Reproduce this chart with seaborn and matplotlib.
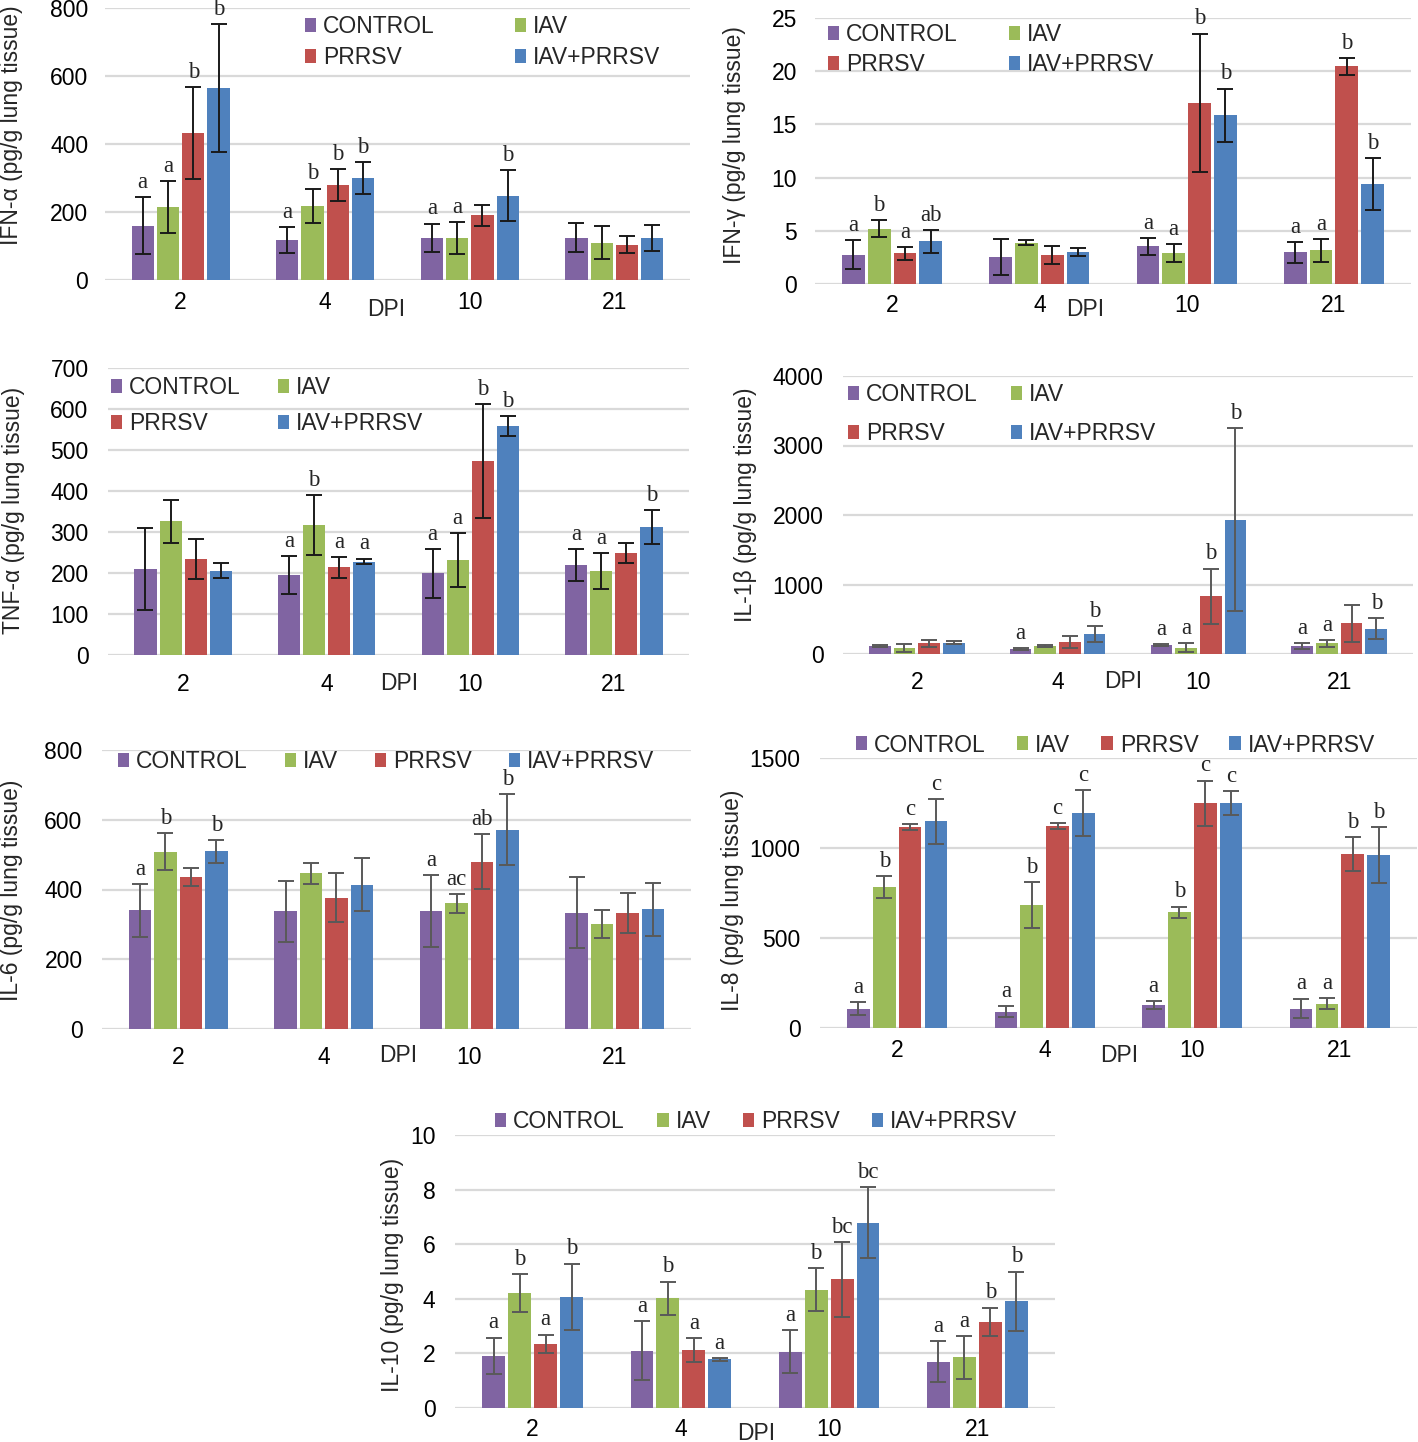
import numpy as np
import pandas as pd
import matplotlib
matplotlib.use("Agg")
import matplotlib.pyplot as plt
from matplotlib.patches import Patch
import seaborn as sns

DAYS = ["2", "4", "10", "21"]
GROUPS = ["CONTROL", "IAV", "PRRSV", "IAV+PRRSV"]
COLORS = ["#8064A2", "#9BBB59", "#C0504D", "#4F81BD"]

# rows = DPI (2, 4, 10, 21); columns = groups (CONTROL, IAV, PRRSV, IAV+PRRSV)
ifna_mean = [[160, 214, 432, 564], [117, 218, 279, 300], [124, 123, 190, 248], [125, 110, 103, 124]]
ifna_err = [[83, 76, 136, 188], [38, 51, 47, 47], [42, 47, 31, 75], [44, 49, 25, 39]]
ifna_sig = [["a", "a", "b", "b"], ["a", "b", "b", "b"], ["a", "a", "", "b"], ["", "", "", ""]]

ifng_mean = [[2.77, 5.2, 2.87, 4.03], [2.52, 3.9, 2.74, 3.05], [3.53, 2.9, 17.03, 15.84], [2.99, 3.15, 20.47, 9.41]]
ifng_err = [[1.35, 0.77, 0.57, 1.07], [1.72, 0.28, 0.85, 0.38], [0.78, 0.86, 6.5, 2.52], [0.97, 1.1, 0.8, 2.45]]
ifng_sig = [["a", "b", "a", "ab"], ["", "", "", ""], ["a", "a", "b", "b"], ["a", "a", "b", "b"]]

tnfa_mean = [[209, 326, 234, 206], [195, 317, 214, 228], [199, 231, 474, 558], [219, 204, 249, 312]]
tnfa_err = [[100, 53, 49, 18], [47, 73, 25, 7], [59, 66, 139, 24], [39, 44, 24, 42]]
tnfa_sig = [["", "", "", ""], ["a", "b", "a", "a"], ["a", "a", "b", "b"], ["a", "a", "", "b"]]

il1b_mean = [[115, 87, 154, 163], [72, 115, 173, 288], [130, 91, 832, 1933], [115, 154, 442, 365]]
il1b_err = [[17, 55, 53, 17], [16, 12, 86, 110], [12, 67, 397, 1315], [43, 48, 267, 152]]
il1b_sig = [["", "", "", ""], ["a", "", "", "b"], ["a", "a", "b", "b"], ["a", "a", "", "b"]]

il6_mean = [[340, 508, 436, 509], [337, 446, 377, 413], [338, 360, 480, 571], [334, 301, 332, 343]]
il6_err = [[75, 53, 25, 33], [88, 30, 70, 76], [103, 27, 78, 102], [102, 41, 57, 76]]
il6_sig = [["a", "b", "", "b"], ["", "", "", ""], ["a", "ac", "ab", "b"], ["", "", "", ""]]

il8_mean = [[108, 783, 1116, 1149], [91, 683, 1121, 1194], [128, 644, 1248, 1251], [108, 136, 967, 960]]
il8_err = [[38, 60, 15, 124], [32, 128, 17, 130], [22, 31, 127, 66], [55, 31, 94, 154]]
il8_sig = [["a", "b", "c", "c"], ["a", "b", "c", "c"], ["a", "b", "c", "c"], ["a", "a", "b", "b"]]

il10_mean = [[1.91, 4.2, 2.35, 4.07], [2.09, 4.02, 2.12, 1.78], [2.06, 4.34, 4.72, 6.79], [1.7, 1.85, 3.15, 3.91]]
il10_err = [[0.67, 0.7, 0.34, 1.22], [1.08, 0.61, 0.45, 0.06], [0.78, 0.8, 1.37, 1.3], [0.74, 0.79, 0.53, 1.09]]
il10_sig = [["a", "b", "a", "b"], ["a", "b", "a", "a"], ["a", "b", "bc", "bc"], ["a", "a", "b", "b"]]

W, H = 1418, 1442
FS = 16.5
SANS = ["Liberation Sans", "DejaVu Sans"]
SERIF = ["Liberation Serif", "DejaVu Serif"]

sns.set_theme(style="white")
plt.rcParams["font.family"] = SANS

fig = plt.figure(figsize=(W / 100, H / 100), dpi=100)

panels = [
    dict(mean=ifna_mean, err=ifna_err, sig=ifna_sig, ymax=800, step=200,
         ylabel="IFN-α (pg/g lung tissue)", rect=(105, 8, 690, 280), ylab=(12, 125),
         dpi=(386, 309), leg=(305, 42, 2, 3.47, 0.36), errc="#1a1a1a", ypad=12, xpad=8),
    dict(mean=ifng_mean, err=ifng_err, sig=ifng_sig, ymax=25, step=5,
         ylabel="IFN-γ (pg/g lung tissue)", rect=(815, 18, 1411, 284), ylab=(735, 145),
         dpi=(1085, 309), leg=(828, 49.5, 2, 2.2, 0.31), errc="#1a1a1a", ypad=13, xpad=7),
    dict(mean=tnfa_mean, err=tnfa_err, sig=tnfa_sig, ymax=700, step=100,
         ylabel="TNF-α (pg/g lung tissue)", rect=(108, 368, 689, 655), ylab=(14, 510),
         dpi=(399, 683), leg=(111, 405.5, 2, 1.59, 0.58), errc="#1a1a1a", ypad=14, xpad=13),
    dict(mean=il1b_mean, err=il1b_err, sig=il1b_sig, ymax=4000, step=1000,
         ylabel="IL-1β (pg/g lung tissue)", rect=(843, 376, 1413, 654), ylab=(746, 505),
         dpi=(1123, 681), leg=(848, 414, 2, 1.42, 0.71), errc="#595959", ypad=14, xpad=12),
    dict(mean=il6_mean, err=il6_err, sig=il6_sig, ymax=800, step=200,
         ylabel="IL-6 (pg/g lung tissue)", rect=(102, 750, 691, 1029), ylab=(12, 890),
         dpi=(398, 1056), leg=(118, 762, 4, 1.6, 0.3), errc="#595959", ypad=14, xpad=12),
    dict(mean=il8_mean, err=il8_err, sig=il8_sig, ymax=1500, step=500,
         ylabel="IL-8 (pg/g lung tissue)", rect=(820, 758, 1417, 1028), ylab=(733, 900),
         dpi=(1119, 1056), leg=(856, 745, 4, 1.35, 0.3), errc="#595959", ypad=14, xpad=8),
    dict(mean=il10_mean, err=il10_err, sig=il10_sig, ymax=10, step=2,
         ylabel="IL-10 (pg/g lung tissue)", rect=(455, 1135, 1055, 1408), ylab=(393, 1275),
         dpi=(756, 1433), leg=(495, 1122, 4, 1.4, 0.3), errc="#595959", ypad=14, xpad=7),
]

for p in panels:
    l, t, r, b = p["rect"]
    ax = fig.add_axes([l / W, 1 - b / H, (r - l) / W, (b - t) / H])
    rows = [(DAYS[d], GROUPS[g], p["mean"][d][g]) for d in range(4) for g in range(4)]
    df = pd.DataFrame(rows, columns=["day", "group", "value"])
    sns.barplot(data=df, x="day", y="value", hue="group", order=DAYS, hue_order=GROUPS,
                palette=COLORS, errorbar=None, width=0.7, gap=0.12, saturation=1,
                linewidth=0, legend=False, ax=ax)
    bar_containers = list(ax.containers)
    ymax = p["ymax"]
    ax.set_ylim(0, ymax)
    ax.set_yticks(np.arange(0, ymax + p["step"] * 0.5, p["step"]))
    ax.yaxis.grid(True, color="#D9D9D9", linewidth=1.6)
    ax.xaxis.grid(False)
    ax.set_axisbelow(True)
    for s in ax.spines.values():
        s.set_visible(False)
    ax.tick_params(axis="y", length=0, pad=p["ypad"], labelsize=FS, colors="black")
    ax.tick_params(axis="x", length=0, pad=p["xpad"], labelsize=FS, colors="black")
    ax.set_xlabel("")
    ax.set_ylabel("")
    ax.set_facecolor("none")
    for gi, cont in enumerate(bar_containers):
        for di, bar in enumerate(cont.patches):
            xc = bar.get_x() + bar.get_width() / 2
            h = bar.get_height()
            e = p["err"][di][gi]
            ax.errorbar(xc, h, yerr=e, fmt="none", ecolor=p["errc"], elinewidth=1.4,
                        capsize=6, capthick=1.4, zorder=5)
            lab = p["sig"][di][gi]
            if lab:
                ax.annotate(lab, (xc, h + e), xytext=(0, 3), textcoords="offset points",
                            ha="center", va="bottom", fontsize=16.5, family=SERIF, zorder=6)
    fig.text(p["ylab"][0] / W, 1 - p["ylab"][1] / H, p["ylabel"], rotation=90,
             ha="center", va="center", fontsize=FS)
    fig.text(p["dpi"][0] / W, 1 - p["dpi"][1] / H, "DPI", ha="center", va="center", fontsize=FS)
    lx, ly, ncol, cs, ls = p["leg"]
    handles = [Patch(facecolor=c, edgecolor="none") for c in COLORS]
    order = [0, 2, 1, 3] if ncol == 2 else [0, 1, 2, 3]
    ax.legend([handles[i] for i in order], [GROUPS[i] for i in order], ncol=ncol,
              loc="center left", bbox_to_anchor=(lx / W, 1 - ly / H),
              bbox_transform=fig.transFigure, frameon=False, fontsize=FS,
              handlelength=0.5, handleheight=0.57, handletextpad=0.3,
              columnspacing=cs, labelspacing=ls, borderpad=0, borderaxespad=0)

fig.savefig("out.png", dpi=100, facecolor="white")
